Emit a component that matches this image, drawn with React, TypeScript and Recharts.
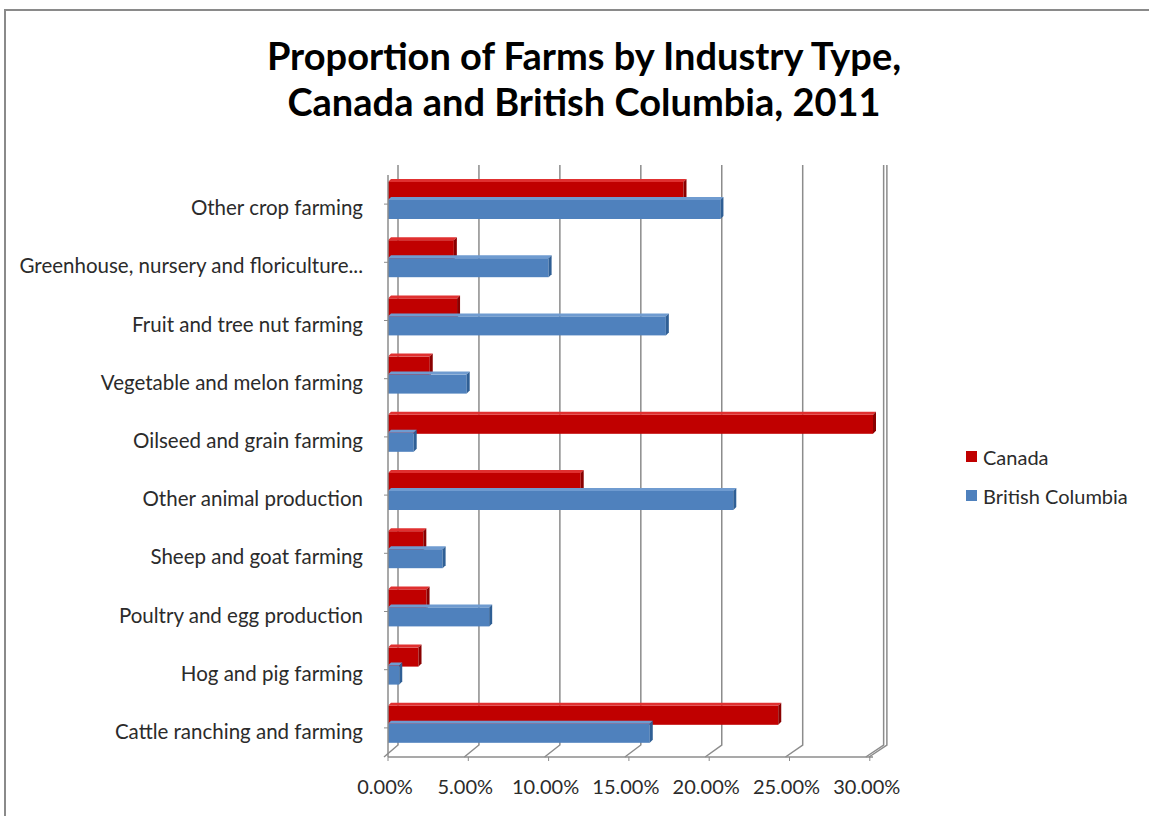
import React from 'react'
import { BarChart, Bar, XAxis, YAxis, CartesianGrid, Legend } from 'recharts'

const industries = [
  'Other crop farming',
  'Greenhouse, nursery and floriculture...',
  'Fruit and tree nut farming',
  'Vegetable and melon farming',
  'Oilseed and grain farming',
  'Other animal production',
  'Sheep and goat farming',
  'Poultry and egg production',
  'Hog and pig farming',
  'Cattle ranching and farming',
]
const canada = [18.4, 4.1, 4.3, 2.6, 30.2, 12.0, 2.2, 2.4, 1.9, 24.3]
const britishColumbia = [20.7, 10.0, 17.3, 4.9, 1.6, 21.5, 3.4, 6.3, 0.7, 16.3]
const xTicks = [0, 5, 10, 15, 20, 25, 30]
const seriesOrder = ['Canada', 'British Columbia']

const data = industries.map((name, i) => ({ name, canada: canada[i], bc: britishColumbia[i] }))

const FONT = 'Lato, "Open Sans", sans-serif'

// fake excel 3d bar: front face + top + right side
const makeBar = (face: string, top: string, side: string) => (props: any) => {
  const { x, y, width, height } = props
  if (!width || width <= 0) return <g />
  const dx = 3
  const dy = 3
  const yy = y - 4
  return (
    <g>
      <rect x={x} y={yy} width={width} height={height} fill={face} />
      <polygon points={`${x},${yy} ${x + dx},${yy - dy} ${x + width + dx},${yy - dy} ${x + width},${yy}`} fill={top} />
      <polygon
        points={`${x + width},${yy} ${x + width + dx},${yy - dy} ${x + width + dx},${yy + height - dy} ${x + width},${yy + height}`}
        fill={side}
      />
    </g>
  )
}

// back wall line + floor diagonal (back wall is a touch wider than the front)
const gridLine = (props: any) => {
  const { x1, y1, y2 } = props
  const back = x1 + 10 + (x1 - 388) * 0.008
  return (
    <polyline
      key={`v-${x1}`}
      points={`${back},${y1 - 10} ${back},${y2 - 12} ${x1 - 4},${y2}`}
      fill="none"
      stroke="#8c8c8c"
      strokeWidth={1.5}
    />
  )
}

const CategoryTick = ({ y, payload }: any) => (
  <text x={363} y={y + 3} textAnchor="end" dominantBaseline="central" fontSize={20.5} fill="#2b2b2b" fontFamily={FONT}>
    {payload.value}
  </text>
)

const ValueTick = ({ x, payload }: any) => (
  <text x={x - 3} y={786} textAnchor="middle" dominantBaseline="central" fontSize={20} fill="#2b2b2b" fontFamily={FONT}>
    {payload.value.toFixed(2)}%
  </text>
)

const LegendBox = ({ payload }: any) => {
  const items = [...(payload || [])].sort((a: any, b: any) => seriesOrder.indexOf(a.value) - seriesOrder.indexOf(b.value))
  return (
    <div style={{ fontFamily: FONT, fontSize: 20, color: '#2b2b2b' }}>
      {items.map((p: any) => (
        <div key={p.value} style={{ display: 'flex', alignItems: 'center', height: 39 }}>
          <span style={{ width: 11, height: 11, background: p.color, display: 'inline-block', marginRight: 6 }} />
          {p.value}
        </div>
      ))}
    </div>
  )
}

export default function App() {
  return (
    <div style={{ position: 'absolute', left: 0, top: 0, width: 1149, height: 816, overflow: 'hidden', background: '#fff' }}>
      <div
        style={{
          position: 'absolute',
          left: 4,
          top: 9,
          width: 1300,
          height: 1000,
          borderLeft: '2px solid #8a8a8a',
          borderTop: '2px solid #8a8a8a',
        }}
      />
      <div
        style={{
          position: 'absolute',
          left: 0,
          top: 32,
          width: 1168,
          textAlign: 'center',
          fontFamily: FONT,
          fontWeight: 700,
          fontSize: 38,
          lineHeight: '46px',
          color: '#000',
        }}
      >
        Proportion of Farms by Industry Type,
        <br />
        Canada and British Columbia, 2011
      </div>
      <BarChart
        width={1149}
        height={816}
        data={data}
        layout="vertical"
        margin={{ top: 175, right: 276, bottom: 0, left: 0 }}
        barSize={19}
        barGap={-1}
        style={{ position: 'absolute', left: 0, top: 0 }}
      >
        <CartesianGrid horizontal={false} vertical={gridLine} />
        <XAxis
          type="number"
          domain={[0, 30]}
          ticks={xTicks}
          height={59}
          tick={<ValueTick />}
          axisLine={{ stroke: '#8c8c8c', strokeWidth: 1.5 }}
          tickLine={{ stroke: '#8c8c8c' }}
          tickSize={4}
        />
        <YAxis
          type="category"
          dataKey="name"
          width={388}
          tick={<CategoryTick />}
          axisLine={{ stroke: '#8c8c8c', strokeWidth: 1.5 }}
          tickLine={{ stroke: '#8c8c8c' }}
          tickSize={4}
          interval={0}
        />
        <Legend
          layout="vertical"
          verticalAlign="middle"
          align="center"
          wrapperStyle={{ left: 966, top: 437, width: 180 }}
          content={<LegendBox />}
        />
        <Bar dataKey="canada" name="Canada" fill="#c00000" shape={makeBar('#c00000', '#e03030', '#8a0000')} isAnimationActive={false} />
        <Bar
          dataKey="bc"
          name="British Columbia"
          fill="#4f81bd"
          shape={makeBar('#4f81bd', '#6f9bd0', '#2f5f95')}
          isAnimationActive={false}
        />
      </BarChart>
    </div>
  )
}
